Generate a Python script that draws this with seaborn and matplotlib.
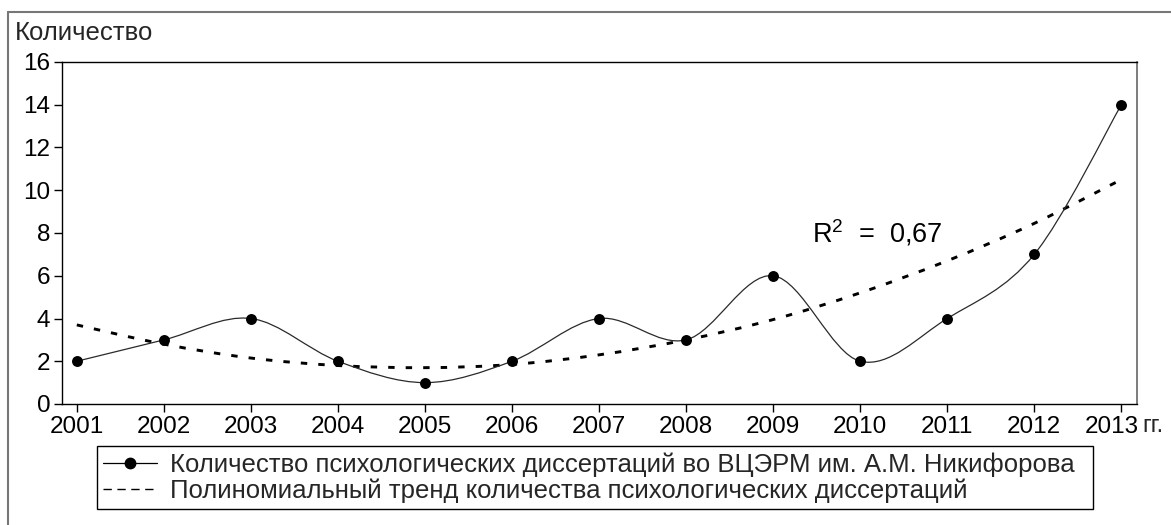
import numpy as np
import pandas as pd
import matplotlib
matplotlib.use("Agg")
import matplotlib.pyplot as plt
import matplotlib.transforms as mtransforms
from matplotlib.path import Path
from matplotlib.patches import PathPatch
from matplotlib.lines import Line2D
import seaborn as sns

# ====== ДАННЫЕ ======
years = [2001, 2002, 2003, 2004, 2005, 2006, 2007, 2008, 2009, 2010, 2011, 2012, 2013]
counts = [2, 3, 4, 2, 1, 2, 4, 3, 6, 2, 4, 7, 14]
trend = [3.7, 2.8, 2.15, 1.8, 1.7, 1.85, 2.3, 3.0, 3.95, 5.2, 6.7, 8.45, 10.5]
y_ticks = [0, 2, 4, 6, 8, 10, 12, 14, 16]

label_main = "Количество психологических диссертаций во ВЦЭРМ им. А.М. Никифорова"
label_trend = "Полиномиальный тренд количества психологических диссертаций"
y_title = "Количество"
x_unit = "гг."
r2_text = r"R$^{2}$  =  0,67"


def smooth_path(xs, ys):
    # сглаженная линия как в Excel (кривые Безье через точки)
    pts = list(zip(xs, ys))
    n = len(pts)
    verts = [pts[0]]
    codes = [Path.MOVETO]
    for i in range(n - 1):
        p0 = pts[max(i - 1, 0)]
        p1 = pts[i]
        p2 = pts[i + 1]
        p3 = pts[min(i + 2, n - 1)]
        c1 = (p1[0] + (p2[0] - p0[0]) / 6, p1[1] + (p2[1] - p0[1]) / 6)
        c2 = (p2[0] - (p3[0] - p1[0]) / 6, p2[1] - (p3[1] - p1[1]) / 6)
        verts += [c1, c2, p2]
        codes += [Path.CURVE4] * 3
    return Path(verts, codes)


sns.set_theme(style="white")
plt.rcParams["font.family"] = ["Liberation Sans", "DejaVu Sans"]
plt.rcParams["mathtext.fontset"] = "custom"
plt.rcParams["mathtext.rm"] = "Liberation Sans"
plt.rcParams["mathtext.it"] = "Liberation Sans"

W, H = 1171, 525
fig = plt.figure(figsize=(W / 100, H / 100), dpi=100)
fig.patch.set_facecolor("white")
ax = fig.add_axes([62 / W, 1 - 404 / H, (1137 - 62) / W, (404 - 62) / H])

df = pd.DataFrame({"year": years, "count": counts, "trend": trend})

# ====== Тренд (пунктир) ======
ax.add_patch(PathPatch(smooth_path(df["year"], df["trend"]), fill=False,
                       edgecolor="black", lw=2.1, linestyle=(0, (2.2, 3.8)),
                       capstyle="butt", zorder=2))

# ====== Основная линия ======
ax.add_patch(PathPatch(smooth_path(df["year"], df["count"]), fill=False,
                       edgecolor="#2a2a2a", lw=0.9, zorder=3))
sns.scatterplot(data=df, x="year", y="count", ax=ax, color="black",
                s=62, edgecolor="black", linewidth=0, zorder=4, legend=False)

ax.set_xlim(2000.83, 2013.18)
ax.set_ylim(0, 16)
ax.set_xticks(years)
ax.set_yticks(y_ticks)
ax.set_xlabel("")
ax.set_ylabel("")
ax.tick_params(axis="both", direction="out", length=6, width=1, color="black",
               labelsize=17.5, pad=2.5, bottom=True, left=True, labelcolor="black")

# последняя подпись чуть левее, чтобы поместилось «гг.»
last = ax.get_xticklabels()[-1]
last.set_transform(last.get_transform()
                   + mtransforms.ScaledTranslation(-10 / 100, 0, fig.dpi_scale_trans))

for side in ["left", "bottom", "top"]:
    ax.spines[side].set_color("black")
    ax.spines[side].set_linewidth(1)
ax.spines["right"].set_color("#666666")
ax.spines["right"].set_linewidth(1.2)
ax.grid(False)

ax.text(2009.45, 8.0, r2_text, fontsize=19.5, va="center", ha="left", color="black")

fig.text(15 / W, 1 - 33 / H, y_title, fontsize=18.5, va="center", ha="left")
fig.text(1142 / W, 1 - 426 / H, x_unit, fontsize=17.5, va="center", ha="left")

# ====== Легенда ======
handles = [
    Line2D([], [], color="black", lw=0.9, marker="o", markersize=7.5),
    Line2D([], [], color="black", lw=1.0, linestyle=(0, (6, 4))),
]
leg = ax.legend(handles, [label_main, label_trend], loc="upper left",
                bbox_to_anchor=(97 / W, 1 - 517 / H, (1093 - 97) / W, 71 / H),
                bbox_transform=fig.transFigure, mode="expand", borderaxespad=0,
                fontsize=18.5, numpoints=1, handlelength=2.1, handletextpad=0.5,
                labelspacing=0.05, borderpad=0.25, fancybox=False, framealpha=1)
leg.get_frame().set_edgecolor("black")
leg.get_frame().set_linewidth(1)

# ====== Внешняя рамка ======
fig.add_artist(Line2D([8 / W, 8 / W], [0, 1 - 12 / H], color="#777777", lw=1.5))
fig.add_artist(Line2D([8 / W, 1], [1 - 12 / H, 1 - 12 / H], color="#777777", lw=1.5))

fig.savefig("out.png", dpi=100)
plt.close(fig)
